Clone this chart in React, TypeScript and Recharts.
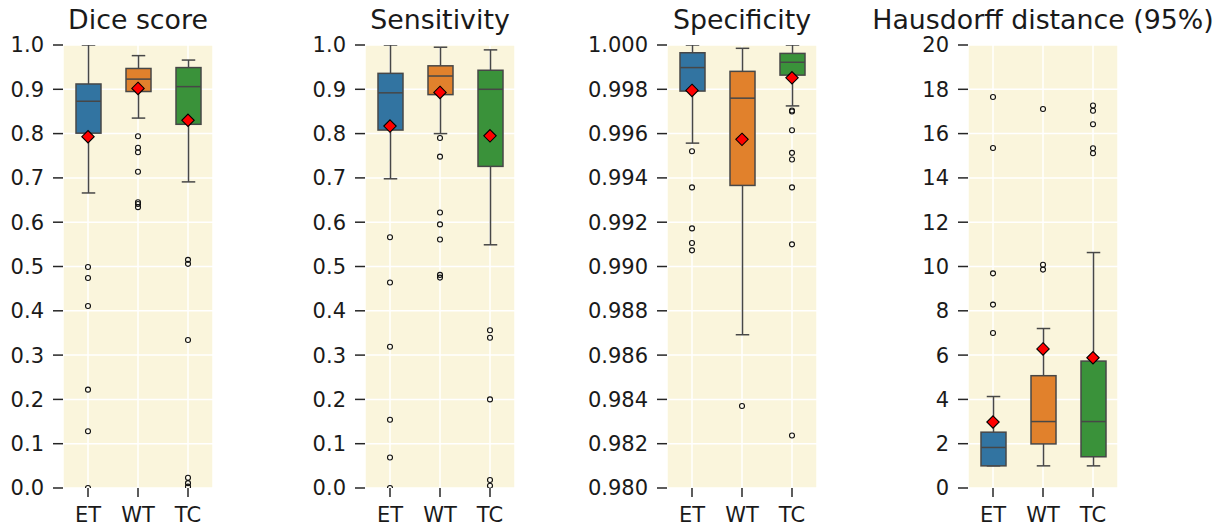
import React from 'react';
import { ComposedChart, Bar, Scatter, XAxis, YAxis, CartesianGrid } from 'recharts';

const CATEGORIES = ['ET', 'WT', 'TC'];
const BOX_COLORS = ['#3274a1', '#e1812c', '#3a923a'];

// [lower whisker, Q1, median, Q3, upper whisker] per category
const DICE_BOXES = [
  [0.666, 0.801, 0.873, 0.912, 1.0],
  [0.835, 0.895, 0.923, 0.947, 0.976],
  [0.691, 0.821, 0.906, 0.949, 0.966],
];
const DICE_MEANS = [0.793, 0.902, 0.83];
const DICE_OUTLIERS = [
  [0.499, 0.474, 0.411, 0.222, 0.128, 0.0],
  [0.794, 0.768, 0.758, 0.714, 0.645, 0.641, 0.634],
  [0.515, 0.506, 0.334, 0.023, 0.011, 0.003],
];

const SENS_BOXES = [
  [0.698, 0.808, 0.892, 0.936, 1.0],
  [0.8, 0.888, 0.93, 0.953, 0.995],
  [0.549, 0.726, 0.9, 0.943, 0.989],
];
const SENS_MEANS = [0.817, 0.893, 0.795];
const SENS_OUTLIERS = [
  [0.566, 0.464, 0.319, 0.154, 0.069, 0.0],
  [0.79, 0.748, 0.622, 0.595, 0.561, 0.481, 0.475],
  [0.356, 0.339, 0.2, 0.018, 0.005],
];

const SPEC_BOXES = [
  [0.99557, 0.99792, 0.99898, 0.99965, 1.0],
  [0.98692, 0.99366, 0.9976, 0.99881, 0.99985],
  [0.99725, 0.99864, 0.99922, 0.99962, 1.0],
];
const SPEC_MEANS = [0.99795, 0.99574, 0.99852];
const SPEC_OUTLIERS = [
  [0.9952, 0.99357, 0.99172, 0.99106, 0.99073],
  [0.9837],
  [0.99704, 0.997, 0.99615, 0.99513, 0.99483, 0.99357, 0.991, 0.98237],
];

const HD_BOXES = [
  [1.0, 1.0, 1.83, 2.52, 4.13],
  [1.0, 1.99, 3.0, 5.07, 7.2],
  [1.0, 1.41, 3.0, 5.73, 10.63],
];
const HD_MEANS = [2.98, 6.28, 5.88];
const HD_OUTLIERS = [
  [17.65, 15.35, 9.69, 8.28, 7.0],
  [17.11, 10.08, 9.86],
  [17.27, 17.03, 16.42, 15.34, 15.11],
];

const TICKS_UNIT = [0, 0.1, 0.2, 0.3, 0.4, 0.5, 0.6, 0.7, 0.8, 0.9, 1.0];
const TICKS_SPEC = [0.98, 0.982, 0.984, 0.986, 0.988, 0.99, 0.992, 0.994, 0.996, 0.998, 1.0];
const TICKS_HD = [0, 2, 4, 6, 8, 10, 12, 14, 16, 18, 20];

const FONT = '"DejaVu Sans", sans-serif';
const LINE = '#474747';
const BG = '#faf5dc';

const PLOT_W = 150;
const AXIS_W = 100;

function BoxShape(props: any) {
  const { x, y, width, height, payload } = props;
  const { lo, q1, med, q3, hi, color } = payload;
  const top = Math.min(y, y + height);
  const bottom = Math.max(y, y + height);
  const py = (v: number) => (hi === lo ? bottom : bottom - ((v - lo) / (hi - lo)) * (bottom - top));
  const cx = x + width / 2;
  const cap = width * 0.27;
  return (
    <g>
      <line x1={cx} x2={cx} y1={py(hi)} y2={py(q3)} stroke={LINE} strokeWidth={1.5} />
      <line x1={cx} x2={cx} y1={py(q1)} y2={py(lo)} stroke={LINE} strokeWidth={1.5} />
      <line x1={cx - cap} x2={cx + cap} y1={py(hi)} y2={py(hi)} stroke={LINE} strokeWidth={1.5} />
      <line x1={cx - cap} x2={cx + cap} y1={py(lo)} y2={py(lo)} stroke={LINE} strokeWidth={1.5} />
      <rect x={x} y={py(q3)} width={width} height={py(q1) - py(q3)} fill={color} stroke={LINE} strokeWidth={1.5} />
      <line x1={x} x2={x + width} y1={py(med)} y2={py(med)} stroke={LINE} strokeWidth={1.5} />
    </g>
  );
}

function OutlierShape(props: any) {
  const { cx, cy } = props;
  if (cx == null || cy == null) return null;
  return <circle cx={cx} cy={cy} r={2.5} fill="none" stroke="#111" strokeWidth={1.1} />;
}

function MeanShape(props: any) {
  const { cx, cy } = props;
  if (cx == null || cy == null) return null;
  const s = 6.2;
  return (
    <path
      d={`M${cx},${cy - s} L${cx + s},${cy} L${cx},${cy + s} L${cx - s},${cy} Z`}
      fill="#ff0000"
      stroke="#000"
      strokeWidth={1.1}
    />
  );
}

interface PanelProps {
  title: string;
  left: number;
  boxes: number[][];
  means: number[];
  outliers: number[][];
  ticks: number[];
  digits: number;
}

function Panel({ title, left, boxes, means, outliers, ticks, digits }: PanelProps) {
  const rows = CATEGORIES.map((cat, i) => ({
    cat,
    lo: boxes[i][0],
    q1: boxes[i][1],
    med: boxes[i][2],
    q3: boxes[i][3],
    hi: boxes[i][4],
    mean: means[i],
    color: BOX_COLORS[i],
  }));
  const fliers = CATEGORIES.flatMap((cat, i) => outliers[i].map((v) => ({ cat, v })));
  const domain = [ticks[0], ticks[ticks.length - 1]];

  return (
    <div style={{ position: 'absolute', left: left - AXIS_W, top: 0, width: AXIS_W + PLOT_W + 10, height: 531 }}>
      <div
        style={{
          position: 'absolute',
          left: AXIS_W + PLOT_W / 2 - 200,
          width: 400,
          top: 6,
          textAlign: 'center',
          fontFamily: FONT,
          fontSize: 26.8,
          lineHeight: '27px',
          color: '#1a1a1a',
          whiteSpace: 'nowrap',
        }}
      >
        {title}
      </div>
      <div style={{ position: 'absolute', left: 0, top: 0 }}>
        <ComposedChart
          width={AXIS_W + PLOT_W + 10}
          height={531}
          data={rows}
          margin={{ top: 45, right: 10, left: 0, bottom: 0 }}
        >
          <CartesianGrid stroke="#ffffff" strokeWidth={1.5} fill={BG} vertical horizontal />
          <XAxis
            dataKey="cat"
            type="category"
            allowDuplicatedCategory={false}
            axisLine={false}
            tickLine={{ stroke: '#262626', strokeWidth: 1.5 }}
            tickSize={9}
            tickMargin={10}
            height={43}
            tick={{ fill: '#1a1a1a', fontSize: 21, fontFamily: FONT }}
          />
          <YAxis
            type="number"
            domain={domain}
            ticks={ticks}
            interval={0}
            allowDataOverflow
            width={AXIS_W}
            axisLine={false}
            tickLine={{ stroke: '#262626', strokeWidth: 1.5 }}
            tickSize={10}
            tickMargin={9}
            tickFormatter={(v: number) => v.toFixed(digits)}
            tick={{ fill: '#1a1a1a', fontSize: 21, fontFamily: FONT }}
          />
          <Bar
            dataKey={(d: any) => [d.lo, d.hi]}
            barSize={25}
            shape={<BoxShape />}
            isAnimationActive={false}
          />
          <Scatter data={fliers} dataKey="v" shape={<OutlierShape />} isAnimationActive={false} />
          <Scatter dataKey="mean" shape={<MeanShape />} isAnimationActive={false} />
        </ComposedChart>
      </div>
    </div>
  );
}

export default function App() {
  return (
    <div style={{ position: 'fixed', left: 0, top: 0, width: 1225, height: 531, background: '#fff', overflow: 'hidden' }}>
      <Panel title="Dice score" left={63} boxes={DICE_BOXES} means={DICE_MEANS} outliers={DICE_OUTLIERS} ticks={TICKS_UNIT} digits={1} />
      <Panel title="Sensitivity" left={365} boxes={SENS_BOXES} means={SENS_MEANS} outliers={SENS_OUTLIERS} ticks={TICKS_UNIT} digits={1} />
      <Panel title="Specificity" left={667} boxes={SPEC_BOXES} means={SPEC_MEANS} outliers={SPEC_OUTLIERS} ticks={TICKS_SPEC} digits={3} />
      <Panel title="Hausdorff distance (95%)" left={968} boxes={HD_BOXES} means={HD_MEANS} outliers={HD_OUTLIERS} ticks={TICKS_HD} digits={0} />
    </div>
  );
}
